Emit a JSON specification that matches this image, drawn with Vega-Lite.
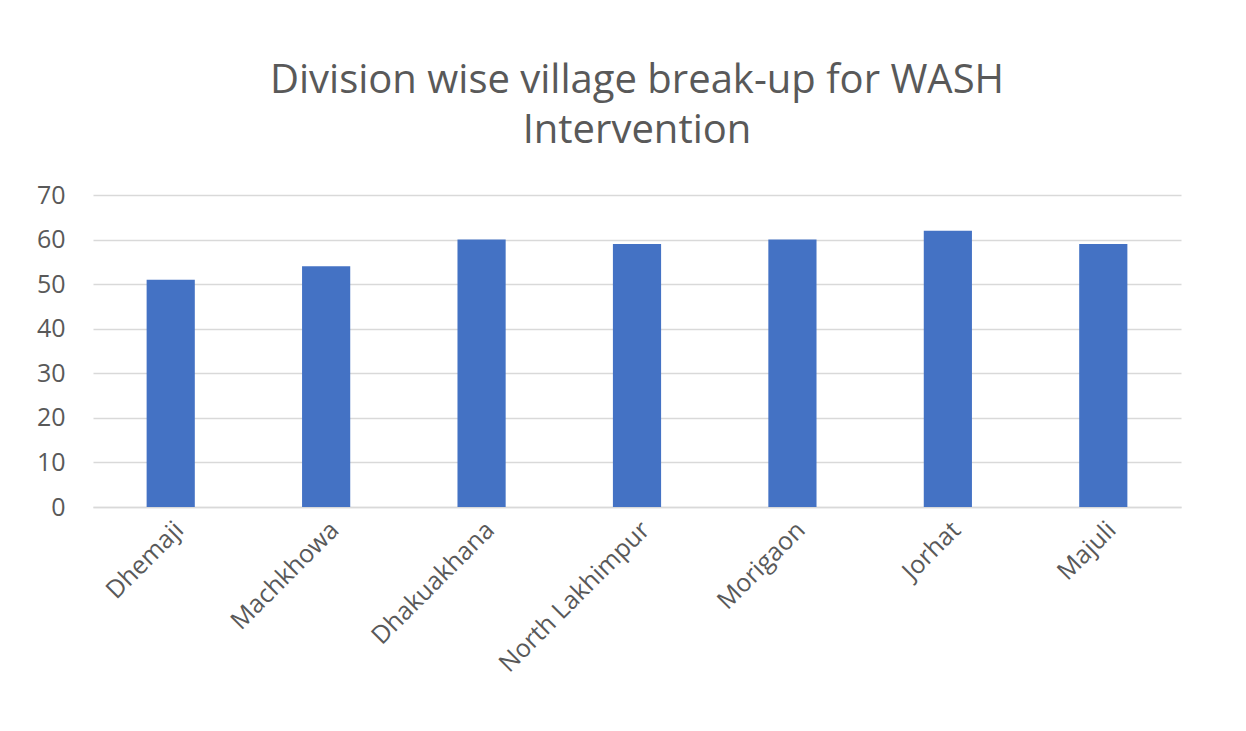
{
  "$schema": "https://vega.github.io/schema/vega-lite/v6.json",
  "autosize": {"type": "none"},
  "width": 1088,
  "height": 312,
  "padding": {"left": 93, "top": 195, "right": 65, "bottom": 224},
  "background": "white",
  "title": {
    "text": ["Division wise village break-up for WASH", "Intervention"],
    "anchor": "middle",
    "font": "Open Sans",
    "fontSize": 40,
    "fontWeight": "normal",
    "color": "#595959",
    "lineHeight": 50,
    "offset": 32
  },
  "data": {
    "values": [
      {"division": "Dhemaji", "villages": 51},
      {"division": "Machkhowa", "villages": 54},
      {"division": "Dhakuakhana", "villages": 60},
      {"division": "North Lakhimpur", "villages": 59},
      {"division": "Morigaon", "villages": 60},
      {"division": "Jorhat", "villages": 62},
      {"division": "Majuli", "villages": 59}
    ]
  },
  "mark": {"type": "bar", "color": "#4472c4"},
  "encoding": {
    "x": {
      "field": "division",
      "type": "nominal",
      "sort": null,
      "title": null,
      "scale": {"paddingInner": 0.69, "paddingOuter": 0.345},
      "axis": {
        "labelAngle": -45,
        "labelFont": "Open Sans",
        "labelFontSize": 25,
        "labelColor": "#595959",
        "labelLimit": 400,
        "ticks": false,
        "domainColor": "#d9d9d9",
        "domainWidth": 1.5,
        "labelPadding": 10
      }
    },
    "y": {
      "field": "villages",
      "type": "quantitative",
      "title": null,
      "scale": {"domain": [0, 70]},
      "axis": {
        "values": [0, 10, 20, 30, 40, 50, 60, 70],
        "labelFont": "Open Sans",
        "labelFontSize": 25,
        "labelColor": "#595959",
        "ticks": false,
        "domain": false,
        "gridColor": "#d9d9d9",
        "gridWidth": 1.5,
        "labelPadding": 28
      }
    }
  },
  "config": {"view": {"stroke": null}}
}
